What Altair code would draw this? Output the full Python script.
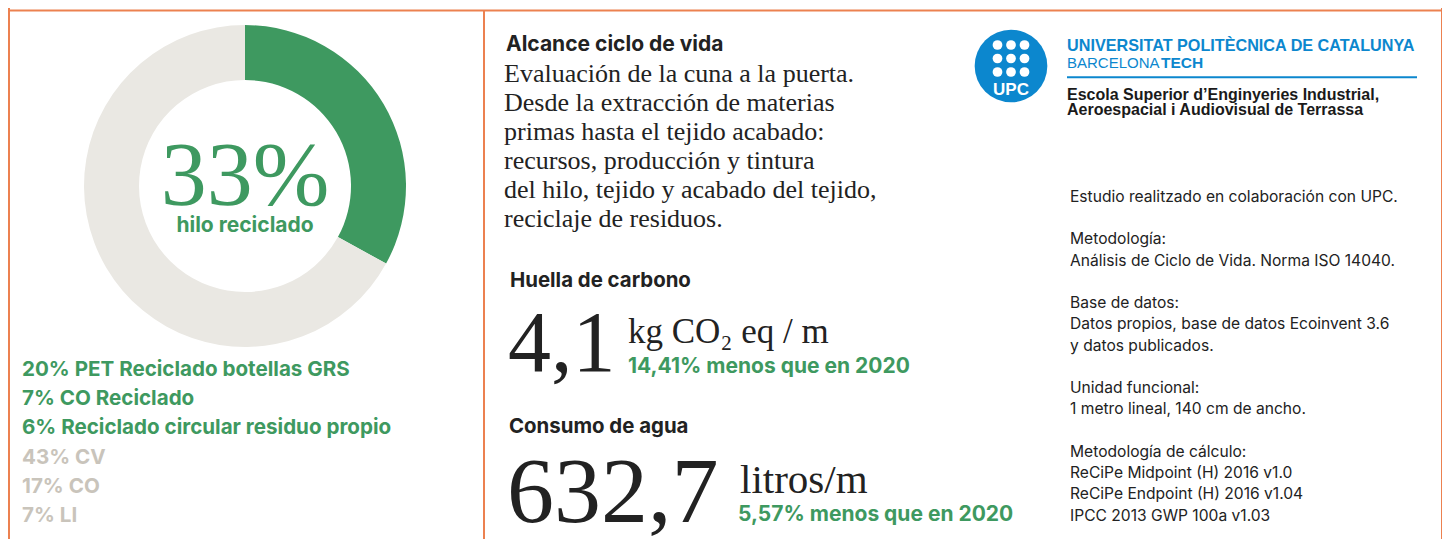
import altair as alt
import pandas as pd

# ---------------- data ----------------
donut_parts = ["hilo reciclado", "resto"]
donut_values = [33, 67]
donut_colors = ["#3E9960", "#EAE8E3"]

center_value = "33%"
center_label = "hilo reciclado"

legend_green = ["20% PET Reciclado botellas GRS", "7% CO Reciclado", "6% Reciclado circular residuo propio"]
legend_gray = ["43% CV", "17% CO", "7% LI"]

scope_title = "Alcance ciclo de vida"
scope_lines = [
    "Evaluación de la cuna a la puerta.",
    "Desde la extracción de materias",
    "primas hasta el tejido acabado:",
    "recursos, producción y tintura",
    "del hilo, tejido y acabado del tejido,",
    "reciclaje de residuos.",
]

carbon_title = "Huella de carbono"
carbon_value = "4,1"
carbon_unit = "kg CO₂ eq / m"
carbon_change = "14,41% menos que en 2020"

water_title = "Consumo de agua"
water_value = "632,7"
water_unit = "litros/m"
water_change = "5,57% menos que en 2020"

uni_name = "UNIVERSITAT POLITÈCNICA DE CATALUNYA"
uni_city = "BARCELONA"
uni_tech = "TECH"
school_lines = ["Escola Superior d’Enginyeries Industrial,", "Aeroespacial i Audiovisual de Terrassa"]
logo_text = "UPC"
logo_dot_cols = [0, 1, 2, 0, 1, 2, 0, 1, 2]
logo_dot_rows = [0, 0, 0, 1, 1, 1, 2, 2, 2]

method_lines = [
    "Estudio realitzado en colaboración con UPC.",
    "",
    "Metodología:",
    "Análisis de Ciclo de Vida. Norma ISO 14040.",
    "",
    "Base de datos:",
    "Datos propios, base de datos Ecoinvent 3.6",
    "y datos publicados.",
    "",
    "Unidad funcional:",
    "1 metro lineal, 140 cm de ancho.",
    "",
    "Metodología de cálculo:",
    "ReCiPe Midpoint (H) 2016 v1.0",
    "ReCiPe Endpoint (H) 2016 v1.04",
    "IPCC 2013 GWP 100a v1.03",
]

# ---------------- styles ----------------
GREEN = "#3E9960"
GRAY_TXT = "#C9C4BB"
DARK = "#222222"
ORANGE = "#EC8150"
BLUE = "#0C87CE"
SANS = "Inter"
SERIF = "Liberation Serif"
HELV = "Liberation Sans"

W, H = 1434, 531


def txt(s, x, y, size, color=DARK, font=SANS, weight="normal", align="left", line_height=None):
    kw = dict(font=font, fontSize=size, color=color, fontWeight=weight, align=align,
              baseline="alphabetic", lineBreak="\n")
    if line_height is not None:
        kw["lineHeight"] = line_height
    return alt.Chart(pd.DataFrame({"t": [s]})).mark_text(**kw).encode(
        text="t:N", x=alt.value(x), y=alt.value(y)
    )


def paragraphs(lines, x, y0, size, line_height, color=DARK, font=SANS, weight="normal"):
    """One text mark per paragraph; blank entries in `lines` separate paragraphs."""
    out, cur, start = [], [], 0
    for i, l in enumerate(lines + [""]):
        if l:
            if not cur:
                start = i
            cur.append(l)
        elif cur:
            out.append(txt("\n".join(cur), x, y0 + start * line_height, size, color, font, weight,
                           line_height=line_height))
            cur = []
    return out


def rule(x, y, x2=None, y2=None, color=ORANGE, width=2):
    enc = dict(x=alt.value(x), y=alt.value(y))
    if x2 is not None:
        enc["x2"] = alt.value(x2)
    if y2 is not None:
        enc["y2"] = alt.value(y2)
    return alt.Chart(pd.DataFrame({"a": [0]})).mark_rule(color=color, strokeWidth=width).encode(**enc)


# ---------------- donut ----------------
donut_df = pd.DataFrame({"part": donut_parts, "value": donut_values, "idx": list(range(len(donut_parts)))})
donut = alt.Chart(donut_df).mark_arc(innerRadius=106, outerRadius=161).encode(
    theta=alt.Theta("value:Q", stack=True),
    color=alt.Color("part:N", scale=alt.Scale(domain=donut_parts, range=donut_colors), legend=None),
    order=alt.Order("idx:Q"),
    x=alt.value(237),
    y=alt.value(178),
)

# ---------------- logo ----------------
logo_circle = alt.Chart(pd.DataFrame({"a": [0]})).mark_circle(
    size=3.14159 * 41 * 41, color=BLUE, opacity=1
).encode(x=alt.value(1003), y=alt.value(58))

dots_df = pd.DataFrame({"col": logo_dot_cols, "row": logo_dot_rows})
logo_dots = alt.Chart(dots_df).mark_circle(size=95, color="white", opacity=1).encode(
    x=alt.X("col:Q", scale=alt.Scale(domain=[0, 2], range=[989.5, 1016.5], zero=False, nice=False), axis=None),
    y=alt.Y("row:Q", scale=alt.Scale(domain=[0, 2], range=[37, 64], zero=False, nice=False), axis=None),
)

layers = [
    # frame lines
    rule(0, 2.5, x2=1434),
    rule(1, 0, y2=H),
    rule(1434, 0, y2=H),
    rule(476, 2.5, y2=H),
    donut,
    txt(center_value, 237, 197, 92, GREEN, SERIF, align="center"),
    txt(center_label, 237, 224, 21, GREEN, SANS, "bold", align="center"),
    txt("\n".join(legend_green), 14, 367.7, 20.6, GREEN, SANS, "bold", line_height=29.3),
    txt("\n".join(legend_gray), 14, 455.6, 20.6, GRAY_TXT, SANS, "bold", line_height=29.3),
    # middle column
    txt(scope_title, 498, 43, 21, DARK, SANS, "bold"),
    txt("\n".join(scope_lines), 496, 74, 26, DARK, SERIF, line_height=28.9),
    txt(carbon_title, 502, 278.7, 20.4, DARK, SANS, "bold"),
    txt(carbon_value, 500, 363, 86, DARK, SERIF),
    txt(carbon_unit, 620, 335, 35, DARK, SERIF),
    txt(carbon_change, 620, 365, 21, GREEN, SANS, "bold"),
    txt(water_title, 501, 425, 20.4, DARK, SANS, "bold"),
    txt(water_value, 499, 514, 94, DARK, SERIF),
    txt(water_unit, 732, 485, 41, DARK, SERIF),
    txt(water_change, 730, 513, 21, GREEN, SANS, "bold"),
    # logo
    logo_circle,
    logo_dots,
    txt(logo_text, 1003, 87, 17, "white", HELV, "bold", align="center"),
    txt(uni_name, 1059, 42.7, 16.2, BLUE, HELV, "bold"),
    txt(uni_city, 1059, 60.3, 15, BLUE, HELV),
    txt(uni_tech, 1153, 60.3, 15.5, BLUE, HELV, "bold"),
    rule(1059, 69.3, x2=1409, color=BLUE, width=2),
    txt("\n".join(school_lines), 1059, 92, 16, "#1a1a1a", HELV, "bold", line_height=15),
]
# right column
layers += paragraphs(method_lines, 1062, 193.7, 15.6, 21.27)

chart = alt.layer(*layers).properties(
    width=W, height=H, padding=0, autosize="none", background="white"
).configure_view(stroke=None)

chart.save("out.html", embed_options={"renderer": "svg", "actions": False})
